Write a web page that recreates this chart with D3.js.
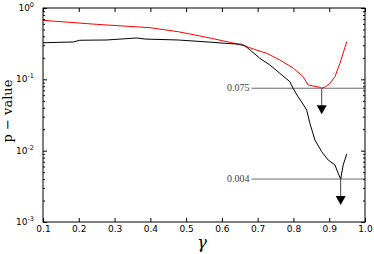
<!DOCTYPE html>
<html>
<head>
<meta charset="utf-8">
<script src="https://cdn.jsdelivr.net/npm/d3@7"></script>
<style>
body { margin: 0; background: #fff; }
svg { display: block; }
.tick text { font-family: "DejaVu Sans", sans-serif; font-size: 9px; fill: #000; }
</style>
</head>
<body>
<svg id="chart" width="374" height="254"></svg>
<script>
var totalW = 374;
var totalH = 254;
var margin = {top: 8, right: 9, bottom: 32, left: 43};
var w = totalW - margin.left - margin.right;
var h = totalH - margin.top - margin.bottom;

// red curve
var gammaRed = [0.100, 0.250, 0.399, 0.478, 0.525, 0.571, 0.627, 0.665, 0.688, 0.725, 0.762, 0.800, 0.827, 0.841, 0.874, 0.879, 0.890, 0.902, 0.916, 0.930, 0.949];
var pRed = [0.672, 0.590, 0.530, 0.465, 0.418, 0.376, 0.326, 0.293, 0.266, 0.232, 0.187, 0.143, 0.109, 0.0833, 0.0773, 0.075, 0.079, 0.088, 0.109, 0.168, 0.337];

// black curve
var gammaBlack = [0.100, 0.185, 0.203, 0.278, 0.362, 0.385, 0.478, 0.571, 0.609, 0.655, 0.665, 0.679, 0.706, 0.734, 0.762, 0.790, 0.799, 0.812, 0.823, 0.837, 0.846, 0.860, 0.879, 0.897, 0.916, 0.925, 0.932, 0.939, 0.949];
var pBlack = [0.326, 0.334, 0.353, 0.356, 0.380, 0.367, 0.356, 0.331, 0.320, 0.310, 0.293, 0.258, 0.197, 0.159, 0.1215, 0.0927, 0.075, 0.058, 0.048, 0.0371, 0.0242, 0.0141, 0.00967, 0.0074, 0.0063, 0.00482, 0.004, 0.0063, 0.00898];

// thresholds and where the minima are
var thresholds = [0.075, 0.004];
var thresholdLabels = ['0.075', '0.004'];
var arrowGamma = [0.879, 0.932];

var xTicks = [0.1, 0.2, 0.3, 0.4, 0.5, 0.6, 0.7, 0.8, 0.9, 1.0];
var yTicks = [1e-3, 1e-2, 1e-1, 1];
var yExps = ['-3', '-2', '-1', '0'];

var svg = d3.select('#chart');
var g = svg.append('g').attr('transform', 'translate(' + margin.left + ',' + margin.top + ')');

var x = d3.scaleLinear().domain([0.1, 1.0]).range([0, w]);
var y = d3.scaleLog().domain([1e-3, 1]).range([h, 0]);

var minorTicks = [];
yTicks.slice(0, 3).forEach(function(d) {
    for (var k = 2; k <= 9; k++) minorTicks.push(d * k);
});

// bottom axis
var gx = g.append('g').attr('transform', 'translate(0,' + h + ')')
    .call(d3.axisBottom(x).tickValues(xTicks).tickFormat(d3.format('.1f'))
        .tickSizeInner(-4).tickSizeOuter(0).tickPadding(4));
gx.select('.domain').remove();

// top axis
var gt = g.append('g')
    .call(d3.axisTop(x).tickValues(xTicks).tickFormat('').tickSizeInner(-4).tickSizeOuter(0));
gt.select('.domain').remove();

// left axis
var gl = g.append('g')
    .call(d3.axisLeft(y).tickValues(yTicks).tickFormat('').tickSizeInner(-4).tickSizeOuter(0));
gl.select('.domain').remove();
g.append('g')
    .call(d3.axisLeft(y).tickValues(minorTicks).tickFormat('').tickSizeInner(-2).tickSizeOuter(0))
    .select('.domain').remove();

// right axis
g.append('g').attr('transform', 'translate(' + w + ',0)')
    .call(d3.axisRight(y).tickValues(yTicks).tickFormat('').tickSizeInner(-4).tickSizeOuter(0))
    .select('.domain').remove();
g.append('g').attr('transform', 'translate(' + w + ',0)')
    .call(d3.axisRight(y).tickValues(minorTicks).tickFormat('').tickSizeInner(-2).tickSizeOuter(0))
    .select('.domain').remove();

// y tick labels 10^n
var yl = g.append('g');
yTicks.forEach(function(d, i) {
    var t = yl.append('text')
        .attr('x', -9)
        .attr('y', y(d) + 3)
        .attr('text-anchor', 'end')
        .style('font-family', '"DejaVu Sans", sans-serif')
        .style('font-size', '9px');
    t.append('tspan').text('10');
    t.append('tspan').attr('dy', -4).style('font-size', '6.5px').text(yExps[i]);
});

// threshold lines
thresholds.forEach(function(d, i) {
    g.append('line')
        .attr('x1', x(0.683)).attr('x2', w)
        .attr('y1', y(d)).attr('y2', y(d))
        .attr('stroke', '#444').attr('stroke-width', 0.8);
    g.append('text')
        .attr('x', x(0.683) - 2)
        .attr('y', y(d) + 3)
        .attr('text-anchor', 'end')
        .style('font-family', '"Liberation Serif", serif')
        .style('font-size', '10px')
        .style('fill', '#444')
        .text(thresholdLabels[i]);
});

// curves
var line = d3.line().x(function(d) { return x(d[0]); }).y(function(d) { return y(d[1]); });

g.append('path')
    .datum(d3.zip(gammaRed, pRed))
    .attr('d', line)
    .attr('fill', 'none').attr('stroke', '#ff0000').attr('stroke-width', 1);

g.append('path')
    .datum(d3.zip(gammaBlack, pBlack))
    .attr('d', line)
    .attr('fill', 'none').attr('stroke', '#000').attr('stroke-width', 1);

// arrows down from the minima
arrowGamma.forEach(function(d, i) {
    var ax = x(d);
    var ay = y(thresholds[i]);
    g.append('line')
        .attr('x1', ax).attr('x2', ax)
        .attr('y1', ay).attr('y2', ay + 18)
        .attr('stroke', '#444').attr('stroke-width', 1);
    g.append('path')
        .attr('d', 'M' + (ax - 5) + ',' + (ay + 17) + 'L' + (ax + 5) + ',' + (ay + 17) + 'L' + ax + ',' + (ay + 26) + 'Z')
        .attr('fill', '#000');
});

// frame
g.append('rect')
    .attr('x', 0).attr('y', 0).attr('width', w).attr('height', h)
    .attr('fill', 'none').attr('stroke', '#000').attr('stroke-width', 1);

// axis labels
svg.append('text')
    .attr('transform', 'translate(12,' + (margin.top + h / 2 - 4) + ') rotate(-90)')
    .attr('text-anchor', 'middle')
    .style('font-family', '"DejaVu Serif", serif')
    .style('font-size', '13px')
    .text('p \u2212 value');

svg.append('text')
    .attr('x', margin.left + w / 2 - 2)
    .attr('y', 248)
    .attr('text-anchor', 'middle')
    .style('font-family', '"DejaVu Serif", serif')
    .style('font-style', 'italic')
    .style('font-size', '16px')
    .text('\u03b3');
</script>
</body>
</html>
